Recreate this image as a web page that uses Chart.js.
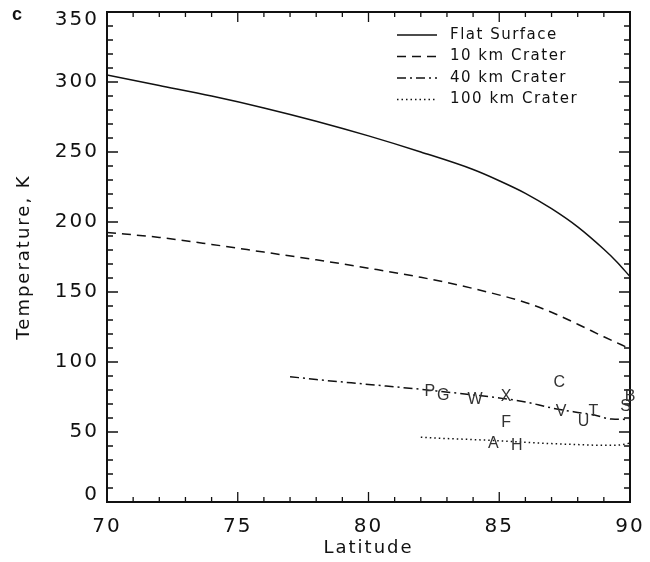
<!DOCTYPE html>
<html>
<head>
<meta charset="utf-8">
<script src="https://cdn.jsdelivr.net/npm/chart.js@4/dist/chart.umd.min.js"></script>
<style>
  html, body { margin: 0; padding: 0; background: #fff; }
  #wrap { width: 650px; height: 562px; }
</style>
</head>
<body>
<div id="wrap"><canvas id="tempChart"></canvas></div>
<script>
// Latitude (deg) / temperature (K) for each surface type
const latFlat  = [70, 72, 74, 76, 78, 80, 82, 84, 85, 86, 87, 88, 89, 89.5, 90];
const tempFlat = [305, 297.5, 290, 281.5, 272, 261.5, 250, 237.5, 229.5, 220.5, 209.5, 196.5, 180.5, 171.5, 161];

const lat10  = [70, 72, 74, 76, 78, 80, 82, 84, 86, 87, 88, 89, 90];
const temp10 = [192.5, 189, 184, 178.5, 173, 167, 160.5, 152.5, 142.5, 135.5, 127, 118, 109.5];

const lat40  = [77, 78, 80, 82, 84, 85, 86, 87, 88, 88.6, 89.3, 90];
const temp40 = [89.5, 87.5, 84, 80.5, 76.5, 74.3, 71.5, 67.2, 64, 62.3, 59.2, 59];

const lat100  = [82, 83, 84, 85, 86, 87, 88, 89, 89.5, 90];
const temp100 = [46.3, 45.3, 44.6, 43.7, 42.6, 41.7, 41, 40.5, 40.6, 42];

// Labelled sites
const siteNames = ['P', 'G', 'W', 'X', 'C', 'F', 'V', 'U', 'T', 'S', 'B', 'A', 'H'];
const siteLat   = [82.35, 82.86, 84.07, 85.26, 87.3, 85.26, 87.36, 88.22, 88.6, 89.83, 90.0, 84.77, 85.67];
const siteTemp  = [78.8, 76, 73.2, 75.6, 85.1, 57, 64.9, 57.7, 64.9, 68.5, 75.1, 41.8, 40.6];

const xTicks = [70, 75, 80, 85, 90];
const yTicks = [0, 50, 100, 150, 200, 250, 300, 350];

const ink = '#111';
const axisFont = "'DejaVu Sans', sans-serif";

const toPoints = (xs, ys) => xs.map((v, i) => ({ x: v, y: ys[i] }));

// Wider lettering for the axis text (only while drawing, not while measuring)
const spacing = {
    id: 'spacing',
    beforeDraw(chart) { chart.ctx.letterSpacing = '2px'; },
    afterDraw(chart) { chart.ctx.letterSpacing = '0px'; }
};

// Frame, inward ticks on all four sides, y labels, panel letter, site labels and key
const decorations = {
    id: 'decorations',
    afterDatasetsDraw(chart) {
        const { ctx, chartArea: a, scales: { x, y } } = chart;
        ctx.save();
        ctx.letterSpacing = '0px';
        ctx.strokeStyle = ink;
        ctx.lineWidth = 1.3;
        ctx.beginPath();
        for (let v = xTicks[0]; v <= xTicks[xTicks.length - 1]; v += 1) {
            const px = x.getPixelForValue(v);
            const len = v % 5 === 0 ? 10 : 5;
            ctx.moveTo(px, a.bottom); ctx.lineTo(px, a.bottom - len);
            ctx.moveTo(px, a.top); ctx.lineTo(px, a.top + len);
        }
        for (let v = yTicks[0]; v <= yTicks[yTicks.length - 1]; v += 10) {
            const py = y.getPixelForValue(v);
            const len = v % 50 === 0 ? 11 : 6;
            ctx.moveTo(a.left, py); ctx.lineTo(a.left + len, py);
            ctx.moveTo(a.right, py); ctx.lineTo(a.right - len, py);
        }
        ctx.stroke();
        ctx.lineWidth = 2;
        ctx.strokeRect(a.left, a.top, a.width, a.height);

        // y tick labels, end labels kept inside the frame height
        ctx.font = '20px ' + axisFont;
        ctx.letterSpacing = '2px';
        ctx.fillStyle = ink;
        ctx.textAlign = 'right';
        ctx.textBaseline = 'middle';
        const half = 7.5;
        yTicks.forEach(v => {
            const py = Math.min(Math.max(y.getPixelForValue(v), a.top + half), a.bottom - half);
            ctx.fillText(String(v), a.left - 8, py);
        });

        // site letters
        ctx.letterSpacing = '0px';
        const meta = chart.getDatasetMeta(4);
        ctx.fillStyle = '#333';
        ctx.font = "16px 'Liberation Sans', sans-serif";
        ctx.textAlign = 'center';
        meta.data.forEach((pt, i) => ctx.fillText(siteNames[i], pt.x, pt.y));

        // key
        ctx.font = '15px ' + axisFont;
        ctx.letterSpacing = '1.5px';
        ctx.textAlign = 'left';
        ctx.fillStyle = ink;
        chart.data.datasets.slice(0, 4).forEach((ds, i) => {
            const rowY = a.top + 23 + i * 21.5;
            ctx.strokeStyle = ink;
            ctx.lineWidth = 1.3;
            ctx.setLineDash(ds.borderDash || []);
            ctx.beginPath();
            ctx.moveTo(a.right - 233, rowY);
            ctx.lineTo(a.right - 193, rowY);
            ctx.stroke();
            ctx.setLineDash([]);
            ctx.fillText(ds.label, a.right - 180, rowY);
        });

        // panel letter
        ctx.letterSpacing = '0px';
        ctx.font = "bold 18px 'Liberation Sans', sans-serif";
        ctx.fillText('c', 12, 15);
        ctx.restore();
    }
};

const lineSet = (label, pts, dash) => ({
    label,
    data: pts,
    borderColor: ink,
    borderWidth: 1.5,
    borderDash: dash,
    pointRadius: 0,
    fill: false,
    cubicInterpolationMode: 'monotone'
});

const ctx = document.getElementById('tempChart').getContext('2d');
const tempChart = new Chart(ctx, {
    type: 'line',
    data: {
        datasets: [
            lineSet('Flat Surface', toPoints(latFlat, tempFlat), []),
            lineSet('10 km Crater', toPoints(lat10, temp10), [9, 6]),
            lineSet('40 km Crater', toPoints(lat40, temp40), [9, 4, 2, 4]),
            lineSet('100 km Crater', toPoints(lat100, temp100), [1.5, 3]),
            {
                type: 'scatter',
                label: 'sites',
                data: toPoints(siteLat, siteTemp),
                pointRadius: 0,
                showLine: false
            }
        ]
    },
    options: {
        responsive: true,
        maintainAspectRatio: false,
        animation: false,
        layout: { padding: { left: 0, right: 20, top: 12, bottom: 0 } },
        scales: {
            x: {
                type: 'linear',
                min: 70,
                max: 90,
                afterFit: scale => {
                    scale.height = 60;
                    scale.paddingLeft = 0;
                    scale.paddingRight = 0;
                },
                afterBuildTicks: scale => { scale.ticks = xTicks.map(v => ({ value: v })); },
                grid: { display: false, drawTicks: false },
                border: { display: false },
                ticks: { color: ink, padding: 13, font: { family: axisFont, size: 20 } },
                title: {
                    display: true,
                    text: 'Latitude',
                    color: ink,
                    padding: { top: 0, bottom: 3 },
                    font: { family: axisFont, size: 18 }
                }
            },
            y: {
                type: 'linear',
                min: 0,
                max: 350,
                afterFit: scale => {
                    scale.width = 107;
                    scale.paddingTop = 0;
                    scale.paddingBottom = 0;
                },
                afterBuildTicks: scale => { scale.ticks = yTicks.map(v => ({ value: v })); },
                grid: { display: false, drawTicks: false },
                border: { display: false },
                ticks: { display: false },
                title: {
                    display: true,
                    text: 'Temperature, K',
                    color: ink,
                    padding: { top: 14, bottom: 0 },
                    font: { family: axisFont, size: 18 }
                }
            }
        },
        plugins: {
            legend: { display: false },
            tooltip: { enabled: false }
        }
    },
    plugins: [spacing, decorations]
});
</script>
</body>
</html>
